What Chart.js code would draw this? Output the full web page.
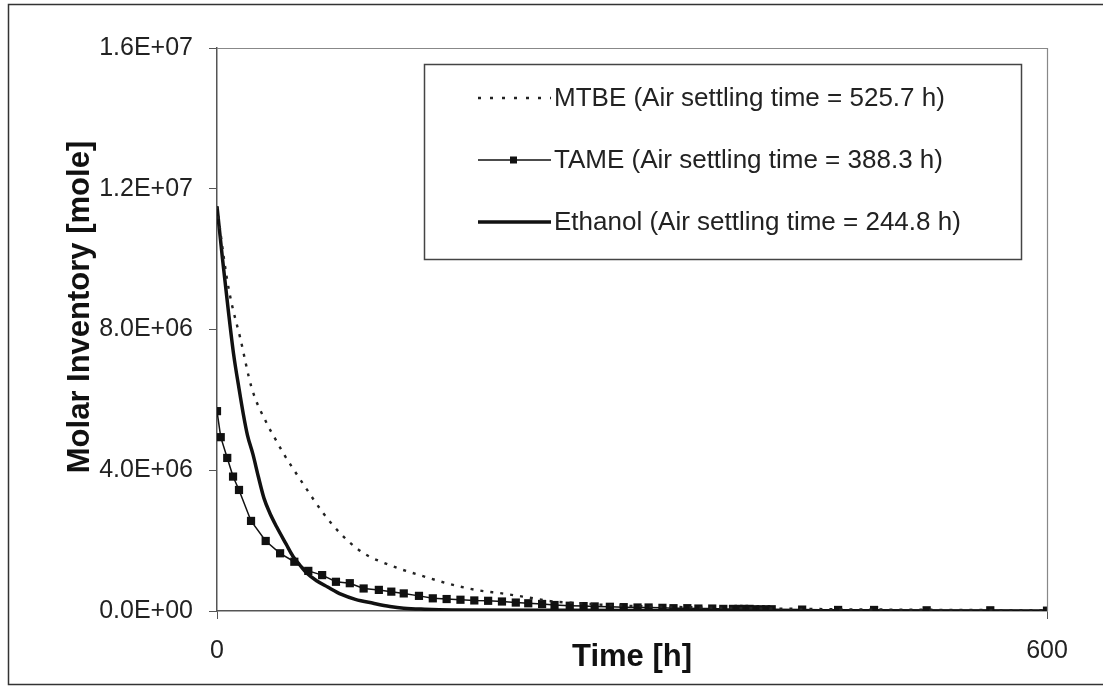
<!DOCTYPE html>
<html>
<head>
<meta charset="utf-8">
<script src="https://cdn.jsdelivr.net/npm/chart.js@4.4.0/dist/chart.umd.min.js"></script>
<style>
  body { margin: 0; background: #fff; }
  #wrap { width: 1103px; height: 687px; position: relative; }
</style>
</head>
<body>
<div id="wrap"><canvas id="chart"></canvas></div>
<script>
// Molar inventory in air after release
const mtbeTime  = [0, 7, 10.6, 16.6, 25, 36, 42, 48, 62, 77, 89, 101, 110, 120, 132, 144, 166, 176, 190, 206, 224, 241, 262, 282, 350, 450, 600];
const mtbeValue = [11.5e6, 9.49e6, 8.74e6, 7.79e6, 6.35e6, 5.33e6, 4.9e6, 4.48e6, 3.63e6, 2.77e6, 2.21e6, 1.78e6, 1.55e6, 1.38e6, 1.2e6, 1.05e6, 0.79e6, 0.69e6, 0.58e6, 0.50e6, 0.39e6, 0.28e6, 0.22e6, 0.17e6, 0.10e6, 0.05e6, 0.02e6];

const tameTime  = [0, 2.7, 7.4, 11.6, 15.9, 24.6, 35.2, 45.6, 55.9, 66, 76, 86, 96, 106, 117, 126, 135, 146, 156, 166, 176, 186, 196, 206, 216, 225, 235, 244, 255, 265, 273, 284, 294, 304, 312, 322, 330, 340, 348, 358, 366, 373, 377, 381, 385, 389, 393, 397, 401, 423, 449, 475, 513, 559, 600];
const tameValue = [5.68e6, 4.94e6, 4.35e6, 3.82e6, 3.44e6, 2.56e6, 1.99e6, 1.64e6, 1.40e6, 1.14e6, 1.02e6, 0.83e6, 0.79e6, 0.64e6, 0.60e6, 0.55e6, 0.50e6, 0.43e6, 0.36e6, 0.34e6, 0.32e6, 0.30e6, 0.29e6, 0.27e6, 0.24e6, 0.22e6, 0.20e6, 0.17e6, 0.15e6, 0.14e6, 0.13e6, 0.12e6, 0.11e6, 0.10e6, 0.10e6, 0.09e6, 0.08e6, 0.08e6, 0.07e6, 0.07e6, 0.06e6, 0.06e6, 0.06e6, 0.06e6, 0.06e6, 0.05e6, 0.05e6, 0.05e6, 0.05e6, 0.04e6, 0.03e6, 0.03e6, 0.02e6, 0.02e6, 0.01e6];

const ethTime  = [0, 4, 8, 12, 16, 19, 22, 26, 30, 34, 38, 43, 50, 55, 60, 65, 72, 80, 90, 100, 113, 125, 135, 150, 170, 250, 350, 450, 600];
const ethValue = [11.5e6, 10.0e6, 8.6e6, 7.3e6, 6.3e6, 5.6e6, 5.0e6, 4.45e6, 3.8e6, 3.2e6, 2.8e6, 2.4e6, 1.9e6, 1.55e6, 1.3e6, 1.07e6, 0.86e6, 0.68e6, 0.47e6, 0.33e6, 0.22e6, 0.13e6, 0.08e6, 0.05e6, 0.03e6, 0.02e6, 0.01e6, 0.005e6, 0];

const seriesLabels = [
    'MTBE (Air settling time = 525.7 h)',
    'TAME (Air settling time = 388.3 h)',
    'Ethanol (Air settling time = 244.8 h)'
];
const xTicks = [0, 600];
const yTicks = [0, 4e6, 8e6, 1.2e7, 1.6e7];

const FONT = '"Liberation Sans", Arial, Helvetica, sans-serif';
const toXY = (xs, ys) => xs.map((x, i) => ({ x: x, y: ys[i] }));

// 1.6E+07 style labels
const sciLabel = (v) => {
    const parts = Number(v).toExponential(1).split('e');
    const exp = parseInt(parts[1], 10);
    const sign = exp < 0 ? '-' : '+';
    return parts[0] + 'E' + sign + String(Math.abs(exp)).padStart(2, '0');
};

// outer frame, plot frame and the y title
const framePlugin = {
    id: 'frame',
    beforeDraw(chart) {
        const ctx = chart.ctx;
        ctx.save();
        ctx.fillStyle = '#fff';
        ctx.fillRect(0, 0, chart.width, chart.height);
        ctx.strokeStyle = '#333';
        ctx.lineWidth = 1.5;
        ctx.strokeRect(8.5, 4.5, chart.width + 10, 680);
        ctx.restore();
    },
    afterDraw(chart) {
        const { ctx, chartArea: a } = chart;
        ctx.save();
        ctx.strokeStyle = '#888';
        ctx.lineWidth = 1.2;
        ctx.beginPath();
        ctx.moveTo(a.left, a.top + 0.5);
        ctx.lineTo(a.right + 0.5, a.top + 0.5);
        ctx.lineTo(a.right + 0.5, a.bottom);
        ctx.stroke();

        ctx.translate(80, 307);
        ctx.rotate(-Math.PI / 2);
        ctx.fillStyle = '#111';
        ctx.font = 'bold 31px ' + FONT;
        ctx.textAlign = 'center';
        ctx.textBaseline = 'middle';
        ctx.fillText('Molar Inventory [mole]', 0, 0);
        ctx.restore();
    }
};

// boxed legend inside the plot
const legendPlugin = {
    id: 'boxLegend',
    afterDatasetsDraw(chart) {
        const ctx = chart.ctx;
        const box = { x: 424, y: 64, w: 597, h: 195 };
        ctx.save();
        ctx.fillStyle = '#fff';
        ctx.fillRect(box.x, box.y, box.w, box.h);
        ctx.strokeStyle = '#444';
        ctx.lineWidth = 1.5;
        ctx.strokeRect(box.x + 0.5, box.y + 0.5, box.w, box.h);

        const rows = [98, 160, 222];
        chart.data.datasets.forEach((ds, i) => {
            const y = rows[i];
            ctx.strokeStyle = ds.borderColor;
            ctx.lineWidth = ds.borderWidth;
            ctx.setLineDash(ds.borderDash ? [3, 9] : []);
            ctx.beginPath();
            ctx.moveTo(478, y);
            ctx.lineTo(551, y);
            ctx.stroke();
            ctx.setLineDash([]);
            if (ds.pointRadius > 0) {
                ctx.fillStyle = ds.pointBackgroundColor;
                ctx.fillRect(510, y - 3.5, 7, 7);
            }
            ctx.fillStyle = '#222';
            ctx.font = '26px ' + FONT;
            ctx.textAlign = 'left';
            ctx.textBaseline = 'middle';
            ctx.fillText(ds.label, 554, y + 1);
        });
        ctx.restore();
    }
};

const ctx = document.getElementById('chart').getContext('2d');
new Chart(ctx, {
    type: 'line',
    data: {
        datasets: [
            {
                label: seriesLabels[0],
                data: toXY(mtbeTime, mtbeValue),
                borderColor: '#222',
                borderWidth: 2.4,
                borderDash: [3, 7],
                pointRadius: 0,
                cubicInterpolationMode: 'monotone'
            },
            {
                label: seriesLabels[1],
                data: toXY(tameTime, tameValue),
                borderColor: '#111',
                borderWidth: 1.5,
                pointStyle: 'rect',
                pointRadius: 5.8,
                pointBackgroundColor: '#111',
                pointBorderColor: '#111',
                pointBorderWidth: 0,
                tension: 0
            },
            {
                label: seriesLabels[2],
                data: toXY(ethTime, ethValue),
                borderColor: '#111',
                borderWidth: 3.5,
                pointRadius: 0,
                cubicInterpolationMode: 'monotone'
            }
        ]
    },
    options: {
        responsive: true,
        maintainAspectRatio: false,
        animation: false,
        layout: { padding: { top: 48, right: 56, left: 0, bottom: 0 } },
        scales: {
            x: {
                type: 'linear',
                min: xTicks[0],
                max: xTicks[xTicks.length - 1],
                afterBuildTicks: (s) => { s.ticks = xTicks.map(v => ({ value: v })); },
                afterFit: (s) => { s.height = 76; },
                grid: { drawOnChartArea: false, drawTicks: true, tickLength: 8, color: '#555' },
                border: { color: '#555', width: 1.5 },
                ticks: { color: '#222', padding: 17, maxRotation: 0, font: { family: FONT, size: 25 } },
                title: {
                    display: true,
                    text: 'Time [h]',
                    color: '#111',
                    font: { family: FONT, size: 31, weight: 'bold' },
                    padding: { top: 0, bottom: 11 }
                }
            },
            y: {
                min: yTicks[0],
                max: yTicks[yTicks.length - 1],
                afterBuildTicks: (s) => { s.ticks = yTicks.map(v => ({ value: v })); },
                afterFit: (s) => { s.width = 217; },
                grid: { drawOnChartArea: false, drawTicks: true, tickLength: 8, color: '#555' },
                border: { color: '#555', width: 1.5 },
                ticks: {
                    color: '#222',
                    padding: 16,
                    font: { family: FONT, size: 25 },
                    callback: (v) => sciLabel(v)
                }
            }
        },
        plugins: {
            legend: { display: false },
            tooltip: { enabled: false }
        }
    },
    plugins: [framePlugin, legendPlugin]
});
</script>
</body>
</html>
